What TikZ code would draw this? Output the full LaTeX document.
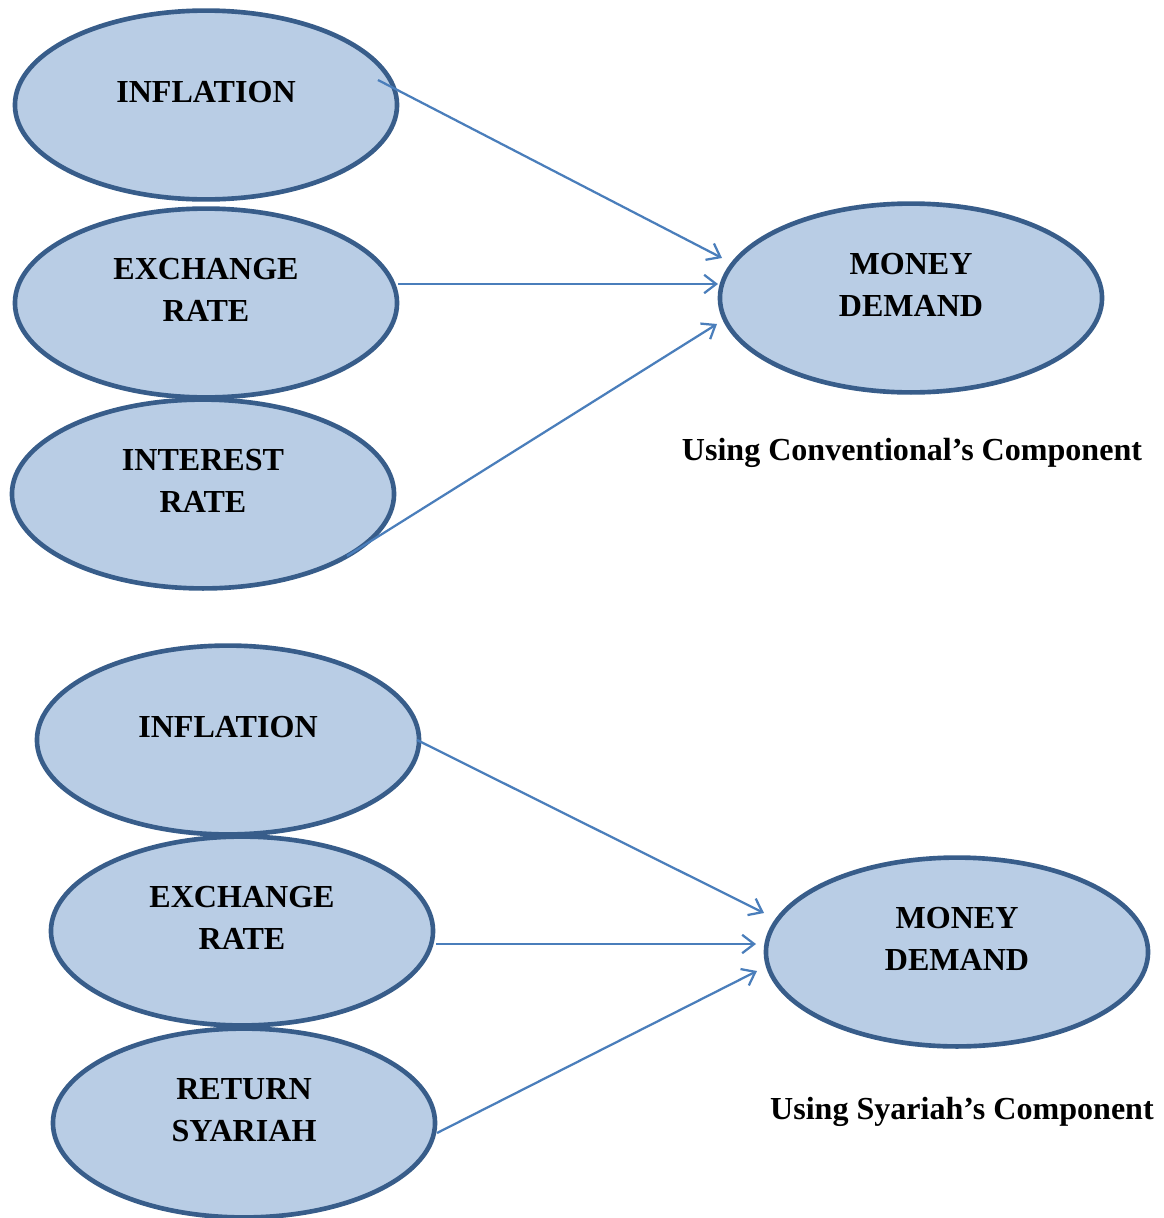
\documentclass[tikz,border=0pt]{standalone}
\usepackage{fontspec}
\setmainfont{Liberation Serif}
\usepackage{tikz}
\usetikzlibrary{arrows.meta,calc,shapes.geometric}
\definecolor{ovalfill}{HTML}{B9CDE5}
\definecolor{ovaledge}{HTML}{385D8A}
\definecolor{linkblue}{HTML}{4A7EBB}

\begin{document}
\begin{tikzpicture}[x=0.025cm,y=-0.025cm,
  oval/.style={ellipse,draw=ovaledge,fill=ovalfill,line width=3.3pt,minimum width=9.55cm,minimum height=4.72cm,inner sep=0pt},
  txt/.style={font=\fontsize{22.8}{30}\selectfont\bfseries,align=center,yshift=0.33cm},
  link/.style={linkblue,line width=1.6pt,-{Straight Barb[length=3mm,width=4.6mm,line width=1.6pt]}},
  caption/.style={font=\fontsize{22.8}{30}\selectfont\bfseries,anchor=base}]
  \useasboundingbox (0,0) rectangle (1164,1218);
  % conventional
  \node[oval,label={[txt]center:INFLATION}] (inf1) at (206,105) {};
  \node[oval,label={[txt]center:EXCHANGE\\RATE}] (exr1) at (206,303) {};
  \node[oval,label={[txt]center:INTEREST\\RATE}] (int1) at (203,494) {};
  \node[oval,label={[txt]center:MONEY\\DEMAND}] (md1) at (911,298) {};
  \node[caption] (cap1) at (912,460) {Using Conventional’s Component};
  \draw[link] ($(inf1)+(172,-25)$) -- ($(md1)+(-189,-40)$);
  \draw[link] ($(exr1)+(192,-19)$) -- ($(md1)+(-193,-14)$);
  \draw[link] ($(int1)+(144,62)$) -- ($(md1)+(-194,26)$);
  % syariah
  \node[oval,label={[txt]center:INFLATION}] (inf2) at (228,740) {};
  \node[oval,label={[txt]center:EXCHANGE\\RATE}] (exr2) at (242,931) {};
  \node[oval,label={[txt]center:RETURN\\SYARIAH}] (ret2) at (244,1123) {};
  \node[oval,label={[txt]center:MONEY\\DEMAND}] (md2) at (957,952) {};
  \node[caption] (cap2) at (962,1119) {Using Syariah’s Component};
  \draw[link] ($(inf2)+(189,0)$) -- ($(md2)+(-193,-39)$);
  \draw[link] ($(exr2)+(194,13)$) -- ($(md2)+(-201,-8)$);
  \draw[link] ($(ret2)+(193,10)$) -- ($(md2)+(-200,19)$);
\end{tikzpicture}
\end{document}
